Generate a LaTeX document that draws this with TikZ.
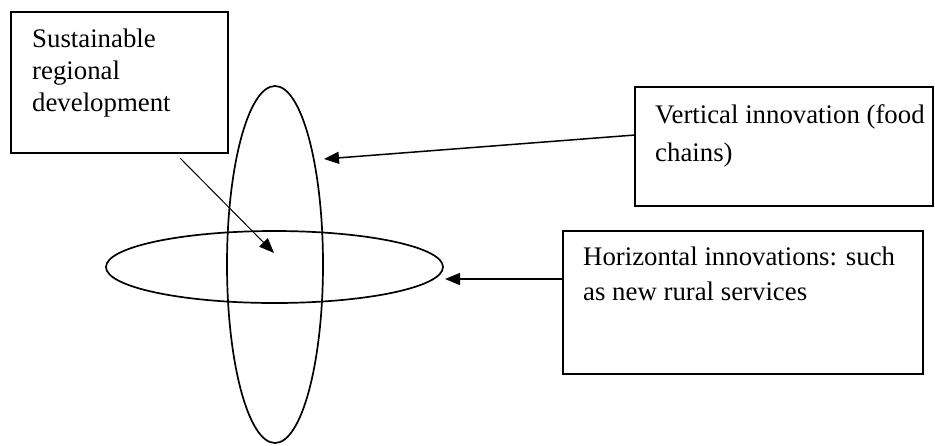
\documentclass[tikz,border=0pt]{standalone}
\usepackage{fontspec}
\setmainfont{Liberation Serif}
\usetikzlibrary{arrows.meta,shapes.geometric}
\begin{document}
\begin{tikzpicture}[x=1pt,y=-1pt,
  box/.style={draw,line width=1.7pt,rectangle,inner sep=0pt,outer sep=0pt,anchor=north west},
  lbl/.style={inner sep=0pt,anchor=north west,align=left,font=\fontsize{26.8}{#1}\selectfont},
  ring/.style={draw,line width=1.7pt,ellipse,inner sep=0pt,outer sep=0pt},
  arr/.style={-{Triangle[length=15pt,width=12pt]},line width=1.5pt},
  thinarr/.style={-{Triangle[length=15pt,width=12pt]},line width=1pt}]
\useasboundingbox (0,0) rectangle (935,445);
% ellipses
\node[ring,minimum width=96pt,minimum height=357pt] (vring) at (275,264.5) {};
\node[ring,minimum width=337pt,minimum height=72pt] (hring) at (274.5,267) {};
% boxes
\node[box,minimum width=217pt,minimum height=141pt] (b1) at (11,12) {};
\node[box,minimum width=298pt,minimum height=119pt] (b2) at (635,87) {};
\node[box,minimum width=360pt,minimum height=143pt] (b3) at (563,231) {};
% labels
\node[lbl=32pt] (t1) at (32,29) {Sustainable\\regional\\development};
\node[lbl=38pt] (t2) at (655,104) {Vertical innovation (food\\chains)};
\node[lbl=35pt] (t3) at (583,247) {Horizontal innovations: such\\as new rural services};
% connectors
\coordinate (p1) at (324,159);
\coordinate (p2) at (445,279);
\coordinate (d0) at (180,158);
\coordinate (d1) at (274,253);
\draw[arr] ([yshift=11.5pt]b2.west) -- (p1);
\draw[arr] ([yshift=23.5pt]b3.west) -- (p2);
\draw[thinarr] (d0) -- (d1);
\end{tikzpicture}
\end{document}
